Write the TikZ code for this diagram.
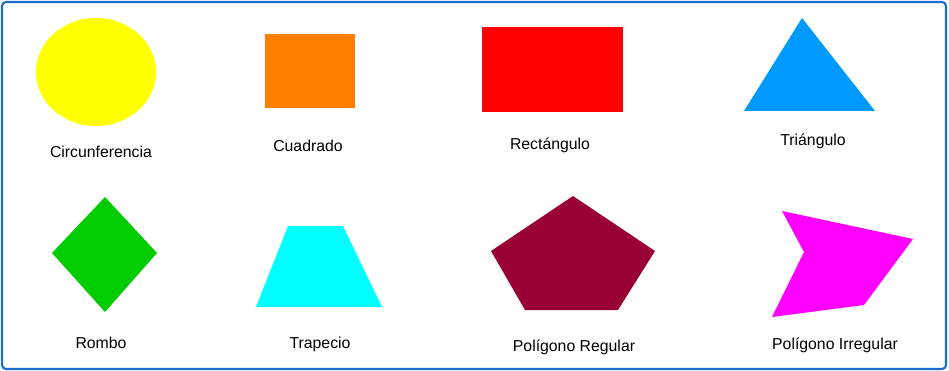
\documentclass[tikz,border=0pt]{standalone}
\usepackage{fontspec}
\setmainfont{Liberation Sans}
\usepackage{tikz}
\usetikzlibrary{positioning}

\definecolor{framecol}{RGB}{30,108,205}
\definecolor{circcol}{RGB}{255,255,0}
\definecolor{sqcol}{RGB}{255,128,0}
\definecolor{rectcol}{RGB}{255,0,0}
\definecolor{tricol}{RGB}{0,153,255}
\definecolor{rhombcol}{RGB}{0,204,0}
\definecolor{trapcol}{RGB}{0,255,255}
\definecolor{pentcol}{RGB}{153,0,51}
\definecolor{irrcol}{RGB}{255,0,255}

\begin{document}
\begin{tikzpicture}[x=0.02cm, y=-0.02cm,
  label/.style={font=\fontsize{9}{11}\selectfont, text=black, inner sep=0pt},
  shape/.style={draw=none}]
\useasboundingbox (0,0) rectangle (949,371);

%Frame
\draw[framecol, line width=1.2pt, rounded corners=0.08cm] (2,2) rectangle (946,369);

%Circunferencia
\fill[circcol] (96,72) ellipse (60 and 54);
\node[label] (circ) at (101,152) {Circunferencia};

%Cuadrado
\fill[sqcol] (265,34) rectangle (355,108);
\node[label] (sq) at (308,146) {Cuadrado};

%Rectangulo
\fill[rectcol] (482,27) rectangle (623,112);
\node[label] (rect) at (550,145) {Rectángulo};

%Triangulo
\fill[tricol] (802,18) -- (875,111) -- (744,111) -- cycle;
\node[label] (tri) at (813,141) {Triángulo};

%Rombo
\fill[rhombcol] (105,197) -- (157,253) -- (105,312) -- (52,253) -- cycle;
\node[label] (rhomb) at (101,343) {Rombo};

%Trapecio
\fill[trapcol] (288,226) -- (343,226) -- (382,307) -- (256,307) -- cycle;
\node[label] (trap) at (320,344) {Trapecio};

%Poligono regular
\fill[pentcol] (573,196) -- (655,251) -- (618,310) -- (525,310) -- (491,251) -- cycle;
\node[label] (pent) at (574,347) {Polígono Regular};

%Poligono irregular
\fill[irrcol] (782,211) -- (913,239) -- (864,305) -- (772,317) -- (804,252) -- cycle;
\node[label] (irr) at (835,345) {Polígono Irregular};

\end{tikzpicture}
\end{document}
